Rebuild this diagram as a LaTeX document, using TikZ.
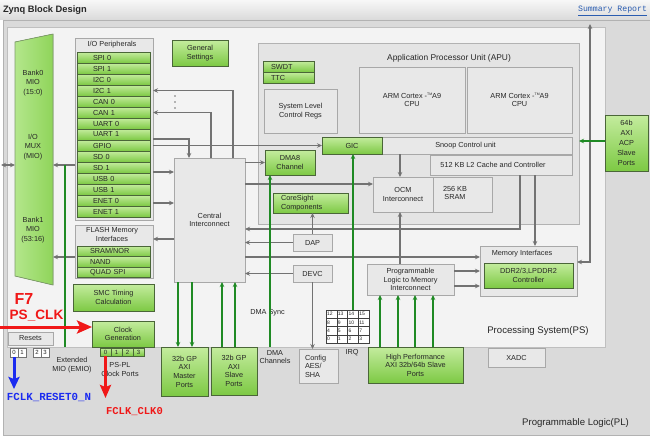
\documentclass[tikz,border=0pt]{standalone}
\usepackage{fontspec}
\setmainfont{Liberation Sans}
\newfontfamily\monof{Liberation Mono}
\usetikzlibrary{arrows.meta}
\definecolor{gtop}{HTML}{C4EC9E}
\definecolor{gbot}{HTML}{7DC944}
\definecolor{gbord}{HTML}{4A6638}
\definecolor{ygray}{HTML}{E8E8E8}
\definecolor{ybord}{HTML}{A8A8A8}
\definecolor{lgray}{HTML}{727272}
\definecolor{dgreen}{HTML}{1F8A24}
\definecolor{psfill}{HTML}{F3F3F3}
\definecolor{plfill}{HTML}{DADADA}
\definecolor{infill}{HTML}{E4E4E4}
\definecolor{redc}{HTML}{F01818}
\definecolor{bluec}{HTML}{1B2BF0}
\definecolor{linkc}{HTML}{2A5CB0}
\definecolor{mioL}{HTML}{B4E78C}
\definecolor{mioR}{HTML}{8FD45A}
\definecolor{mioB}{HTML}{7E9C6A}
\newcommand\bx[7]{\node[#2,minimum width={(#5)-(#3)},minimum height={(#6)-(#4)}] (#1) at ({((#3)+(#5))/2},{((#4)+(#6))/2}) {#7};}
\newcommand\tmA{-{\raisebox{3pt}{\fontsize{3.5}{3.5}\selectfont TM}}A9}
\begin{document}
\begin{tikzpicture}[x=1pt,y=-1pt,
  >={Stealth[length=5pt,width=4.5pt]},
  base/.style={font=\fontsize{7.3}{8.6}\selectfont, inner sep=0pt, outer sep=0pt, align=center, text=black!85},
  gbox/.style={base, draw=gbord, line width=1pt, top color=gtop, bottom color=gbot},
  ybox/.style={base, draw=ybord, line width=0.8pt, fill=ygray},
  lt/.style={align=left, text width=#1},
  gl/.style={draw=lgray, line width=1.4pt, ->},
  grl/.style={draw=dgreen, line width=1.6pt, ->},
  big/.style={base, font=\fontsize{9.6}{11}\selectfont},
]
\useasboundingbox (0,0) rectangle (650,440);
\fill[white] (0,0) rectangle (650,440);
% frames
\bx{tbar}{base, top color=black!3, bottom color=black!14}{0}{0}{650}{19}{}
\bx{pl}{base, fill=plfill, draw=black!30, line width=0.8pt}{3}{20}{650}{435}{}
\bx{ps}{base, fill=psfill, draw=black!25, line width=0.8pt}{7}{27}{605}{347}{}
\bx{inner}{base, fill=infill, draw=black!30, line width=0.8pt}{258}{43}{579}{224}{}
\node[base, anchor=west, font=\fontsize{9.3}{11}\bfseries\selectfont, text=black!85] (title) at (3,10) {Zynq Block Design};
\node[base, anchor=east, font=\monof\fontsize{8.2}{10}\selectfont, text=linkc] (summary) at (647,11) {\underline{Summary Report}};
\node[big] (pllab) at (575.5,423) {Programmable Logic(PL)};
\node[big] (pslab) at (538,331) {Processing System(PS)};
\node[base, font=\fontsize{8.4}{10}\selectfont] (apulab) at (449,58) {Application Processor Unit (APU)};
% MIO
\fill[left color=mioL, right color=mioR] (15,42) -- (53,34) -- (53,285) -- (15,276) -- cycle;
\draw[mioB, line width=0.7pt] (15,42) -- (53,34) -- (53,285) -- (15,276) -- cycle;
\bx{mio}{base}{15}{34}{53}{285}{}
\node[base, font=\fontsize{7.3}{9.6}\selectfont] (bank0) at (33,83) {Bank0\\MIO\\(15:0)};
\node[base, font=\fontsize{7.3}{9.6}\selectfont] (iomux) at (33,147) {I/O\\MUX\\(MIO)};
\node[base, font=\fontsize{7.3}{9.6}\selectfont] (bank1) at (33,230) {Bank1\\MIO\\(53:16)};
% I/O peripherals
\bx{io}{ybox}{75}{38}{153}{220}{}
\node[base] (iot) at (112,44.5) {I/O Peripherals};
\foreach \n/\t [count=\k from 0] in {spi0/SPI 0,spi1/SPI 1,i2cz/I2C 0,i2co/I2C 1,can0/CAN 0,can1/CAN 1,uart0/UART 0,uart1/UART 1,gpio/GPIO,sd0/SD 0,sd1/SD 1,usb0/USB 0,usb1/USB 1,enet0/ENET 0,enet1/ENET 1}{\bx{\n}{gbox,line width=0.9pt,lt=41pt}{77}{52+11*\k}{150}{63+11*\k}{\t}}
% flash
\bx{flash}{ybox}{75}{225}{153}{278}{}
\node[base] (flasht) at (112,234.5) {FLASH Memory\\Interfaces};
\foreach \n/\t [count=\k from 0] in {sram/{SRAM/NOR},nand/NAND,qspi/QUAD SPI}{\bx{\n}{gbox,line width=0.9pt,lt=47pt}{77}{246+10.5*\k}{150}{256.5+10.5*\k}{\t}}
\bx{smc}{gbox}{73}{284}{154}{311}{SMC Timing\\Calculation}
\bx{clk}{gbox}{92}{321}{154}{347}{Clock\\Generation}
\foreach \k in {0,...,3}{\bx{cp\k}{gbox,line width=0.8pt,font=\fontsize{6}{6}\selectfont}{100+11*\k}{348}{111+11*\k}{356}{\k}}
\bx{resets}{ybox}{8}{332}{53}{345}{Resets}
\foreach \k/\xx in {0/10,1/18,2/33,3/41}{\bx{rp\k}{base,fill=white,draw=black!55,line width=0.7pt,font=\fontsize{6}{6}\selectfont}{\xx}{348}{\xx+8}{357}{\k}}
\node[base] (emio) at (72,365) {Extended\\MIO (EMIO)};
\node[base] (pspl) at (120,369.5) {PS-PL\\Clock Ports};
% central part
\bx{gen}{gbox}{172}{40}{228}{66}{General\\Settings}
\bx{ci}{ybox}{174}{158}{245}{282}{Central\\Interconnect}
\bx{mst}{gbox}{161}{347}{208}{396}{32b GP\\AXI\\Master\\Ports}
\bx{slv}{gbox}{211}{347}{257}{395}{32b GP\\AXI\\Slave\\Ports}
\bx{swdt}{gbox,lt=35pt}{263}{61}{314}{72}{SWDT}
\bx{ttc}{gbox,lt=35pt}{263}{72}{314}{83}{TTC}
\bx{slcr}{ybox}{264}{89}{337}{133}{System Level\\Control Regs}
\bx{cpu0}{ybox}{359}{67}{465}{133}{ARM Cortex \tmA\\CPU}
\bx{cpu1}{ybox}{467}{67}{572}{133}{ARM Cortex \tmA\\CPU}
\bx{snoop}{ybox}{322}{137}{572}{154}{}
\node[base] (snooplab) at (465.5,146) {Snoop Control unit};
\bx{l2}{ybox}{430}{155}{572}{175}{}
\node[base] (l2lab) at (493,165) {512 KB L2 Cache and Controller};
\bx{ocm}{ybox}{373}{177}{433}{212}{OCM\\Interconnect}
\bx{sram2}{ybox}{433}{177}{492}{212}{}
\node[base] (sramlab) at (455,193) {256 KB\\SRAM};
\bx{gic}{gbox}{322}{137}{382}{154}{GIC}
\bx{dma}{gbox}{265}{150}{315}{175}{DMA8\\Channel}
\bx{cs}{gbox,lt=59pt}{273}{193}{348}{213}{CoreSight\\Components}
\bx{dap}{ybox}{293}{234}{332}{251}{DAP}
\bx{devc}{ybox}{293}{265}{332}{282}{DEVC}
\bx{cfg}{ybox,lt=27pt}{299}{349}{338}{383}{Config\\AES/\\SHA}
\bx{irq}{base,fill=white,draw=black!75,line width=0.5pt}{326}{310}{369}{343}{}
\foreach \i in {1,2,3}{\draw[black!75,line width=0.5pt] (326+10.75*\i,310) -- (326+10.75*\i,343); \draw[black!75,line width=0.5pt] (326,310+8.25*\i) -- (369,310+8.25*\i);}
\foreach \r in {0,...,3}{\foreach \c in {0,...,3}{\pgfmathtruncatemacro\nn{12-4*\r+\c}\node[base,anchor=west,font=\fontsize{5}{5}\selectfont] (irq-\r-\c) at (327+10.75*\c,314.2+8.25*\r) {\nn};}}
\node[base] (irqlab) at (352,353) {IRQ};
\bx{hp}{gbox}{368}{347}{463}{383}{High Performance\\AXI 32b/64b Slave\\Ports}
\bx{plm}{ybox}{367}{264}{454}{295}{Programmable\\Logic to Memory\\Interconnect}
\bx{memif}{ybox}{480}{246}{577}{296}{}
\node[base] (memlab) at (522,254) {Memory Interfaces};
\bx{ddr}{gbox}{484}{263}{573}{288}{DDR2/3,LPDDR2\\Controller}
\bx{xadc}{ybox}{488}{348}{545}{367}{XADC}
\bx{acp}{gbox,font=\fontsize{7.3}{10}\selectfont}{605}{115}{648}{171}{64b\\AXI\\ACP\\Slave\\Ports}
\node[base] (dmasync) at (267.5,313) {DMA Sync};
\node[base] (dmach) at (275,357) {DMA\\Channels};
% gray connectors
\draw[gl] ([xshift=23.5pt]ci.north) |- (i2co.east -| io.east);
\draw[gl] ([xshift=1.5pt]ci.north) |- (can1.east -| io.east);
\draw[gl] (io.east |- 0,139) -| ([xshift=-20.5pt]ci.north);
\draw[gl] (gpio.east -| io.east) -- (gpio.east -| gic.west);
\draw[gl] (io.east |- 0,172) -- (ci.west |- 0,172);
\draw[gl] (io.east |- 0,203) -- (ci.west |- 0,203);
\draw[gl] (ci.west |- 0,239) -- (flash.east |- 0,239);
\draw[gl] (io.west |- 0,165) -- (mio.east |- 0,165);
\draw[gl] (flash.west |- 0,257) -- (mio.east |- 0,257);
\draw[gl] (ci.east |- dma.west) -- (dma.west);
\draw[gl] (ci.east |- 0,184) -- (ocm.west |- 0,184);
\draw[gl] (520,0 |- l2.south) |- (ci.east |- 0,229);
\draw[gl] (535,0 |- l2.south) -- (535,0 |- memif.north);
\draw[gl] (400,0 |- snoop.south) -- (400,0 |- ocm.north);
\draw[gl] (400,0 |- plm.north) -- (400,0 |- ocm.south);
\draw[gl] (ci.east |- 0,257) -- (memif.west |- 0,257);
\draw[gl] (plm.east |- 0,271) -- (memif.west |- 0,271);
\draw[gl] (plm.east |- 0,286) -- (memif.west |- 0,286);
\draw[gl] (dap.north) -- (dap.north |- cs.south);
\draw[gl] (dap.west) -- (ci.east |- dap.west);
\draw[gl] (devc.west) -- (ci.east |- devc.west);
\draw[gl] (devc.south) -- (devc.south |- cfg.north);
\coordinate (topend) at (590,24);
\draw[gl,<->] (topend) |- (memif.east |- 0,262);
\coordinate (lend) at (1,165);
\draw[gl,<->] (lend) -- (mio.west |- lend);
\foreach \yy in {96,102,108}{\fill[lgray] (175,\yy) circle (0.9);}
% green connectors
\draw[grl] (178,0 |- ci.south) -- (178,0 |- mst.north);
\draw[grl] (192,0 |- ci.south) -- (192,0 |- mst.north);
\draw[grl] (222,0 |- slv.north) -- (222,0 |- ci.south);
\draw[grl] (235,0 |- slv.north) -- (235,0 |- ci.south);
\draw[grl] (270,0 |- ps.south) -- (270,0 |- dma.south);
\draw[grl] (353,0 |- irq.north) -- (353,0 |- gic.south);
\foreach \xx in {380,398,415,433}{\draw[grl] (\xx,0 |- hp.north) -- (\xx,0 |- plm.south);}
\draw[grl] (acp.west |- 0,141) -- (inner.east |- 0,141);
\coordinate (emiotop) at (65,165);
\draw[grl,-] (emiotop) -- (emiotop |- ps.south);
% clock / reset annotations
\coordinate (redstart) at (0,327);
\draw[redc, line width=3pt, -{Stealth[length=15pt,width=13pt,inset=3pt]}] (redstart) -- (clk.west |- redstart);
\coordinate (blueend) at (14,389);
\draw[bluec, line width=3pt, -{Stealth[length=12pt,width=11pt,inset=2pt]}] (rp0.south) -- (blueend);
\coordinate (redend) at (105.5,398);
\draw[redc, line width=3pt, -{Stealth[length=13pt,width=11pt,inset=2pt]}] (cp0.south) -- (cp0.south |- redend);
\node[base, font=\fontsize{16}{18}\bfseries\selectfont, text=redc] (f7) at (24,299) {F7};
\node[base, font=\fontsize{13.6}{16}\bfseries\selectfont, text=redc] (psclk) at (36.5,316) {PS\_CLK};
\node[base, font=\monof\fontsize{10.8}{12}\bfseries\selectfont, text=bluec] (rstlab) at (49,397) {FCLK\_RESET0\_N};
\node[base, font=\monof\fontsize{10.5}{12}\bfseries\selectfont, text=redc] (clklab) at (134.5,412) {FCLK\_CLK0};
\end{tikzpicture}
\end{document}
